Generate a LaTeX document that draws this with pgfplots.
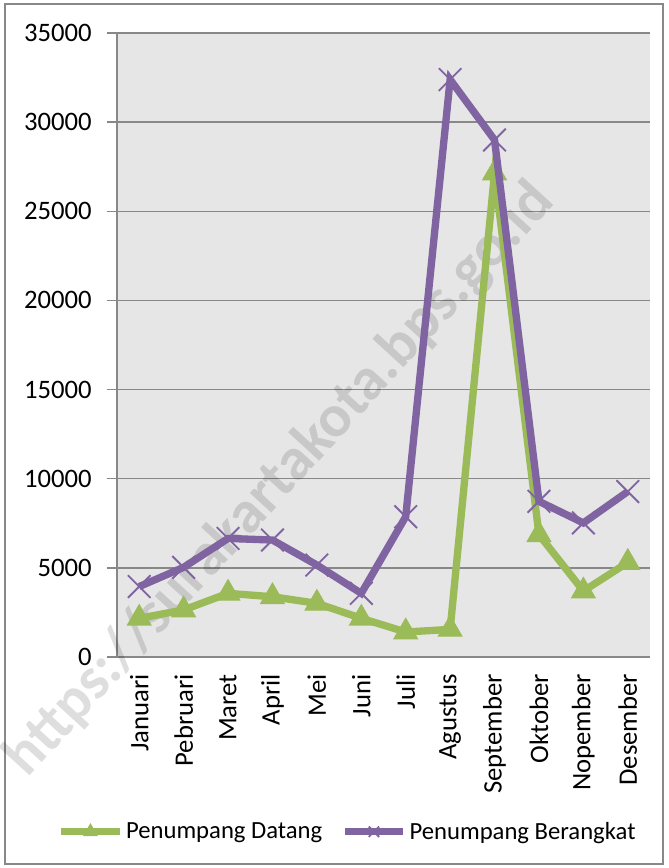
\documentclass[border=0pt]{standalone}
\usepackage{pgfplots}
\pgfplotsset{compat=1.18}
\usepackage{fontspec}
\setmainfont{Carlito}
\definecolor{datang}{HTML}{9BBB59}
\definecolor{berangkat}{HTML}{8064A2}
\definecolor{gridgray}{HTML}{888888}
\definecolor{plotbg}{HTML}{E6E6E6}

\begin{document}
\begin{tikzpicture}
% page frame: 1 px of the reference = 0.75pt
\path (0pt,0pt) rectangle (501pt,651pt);
\draw[gridgray, line width=1.1pt] (3.75pt,3pt) rectangle (497.25pt,648pt);
\begin{axis}[
  at={(87.75pt,158.25pt)}, anchor=south west,
  scale only axis, width=399.75pt, height=468pt,
  xmin=0.5, xmax=12.5, ymin=0, ymax=35000,
  clip mode=individual,
  axis background/.style={fill=plotbg},
  axis x line*=bottom, axis y line*=left,
  axis line style={gridgray, line width=1.1pt, -},
  scaled y ticks=false,
  ytick={0,5000,10000,15000,20000,25000,30000,35000},
  yticklabels={0,5000,10000,15000,20000,25000,30000,35000},
  ymajorgrids, grid style={gridgray, line width=1.1pt},
  tick align=outside, major tick length=7.5pt,
  tick style={gridgray, line width=1.1pt},
  xtick={1,...,12},
  xticklabels={Januari,Pebruari,Maret,April,Mei,Juni,Juli,Agustus,September,Oktober,Nopember,Desember},
  major x tick style={draw=none},
  extra x ticks={0.5,1.5,...,12.5},
  extra x tick labels={},
  extra x tick style={grid=none, tick style={draw=gridgray}},
  x tick label style={rotate=90, anchor=east, font=\fontsize{20}{24}\selectfont},
  y tick label style={font=\fontsize{20}{24}\selectfont, xshift=-8pt},
  xticklabel shift=2pt,
  legend columns=2,
  legend style={at={(0.433,-0.28)}, anchor=center, draw=none, fill=none,
    font=\fontsize{18.5}{22}\selectfont,
    /tikz/every even column/.append style={column sep=12pt}},
  legend image code/.code={
    \draw[mark repeat=2, mark phase=2, #1, mark size=5.5pt]
      plot coordinates {(0pt,0pt) (22pt,0pt) (44pt,0pt)};},
]
\node[overlay, rotate=47.5, text=black, opacity=0.13, font=\bfseries\fontsize{45}{48}\selectfont]
  at (axis cs:4.17,9930) {https://surakartakota.bps.go.id};
\addplot[datang, line width=5.5pt, mark=triangle*, mark size=10pt,
  mark options={line width=1pt, fill=datang, draw=datang}]
  coordinates {(1,2170) (2,2640) (3,3570) (4,3380) (5,3010) (6,2170)
               (7,1400) (8,1550) (9,27150) (10,6860) (11,3700) (12,5300)};
\addlegendentry{Penumpang Datang}
\addplot[berangkat, line width=5.5pt, mark=x, mark size=12pt,
  mark options={line width=1.4pt}]
  coordinates {(1,3950) (2,5030) (3,6650) (4,6560) (5,5160) (6,3570)
               (7,7870) (8,32390) (9,29000) (10,8730) (11,7520) (12,9280)};
\addlegendentry{Penumpang Berangkat}
\end{axis}
\end{tikzpicture}
\end{document}
